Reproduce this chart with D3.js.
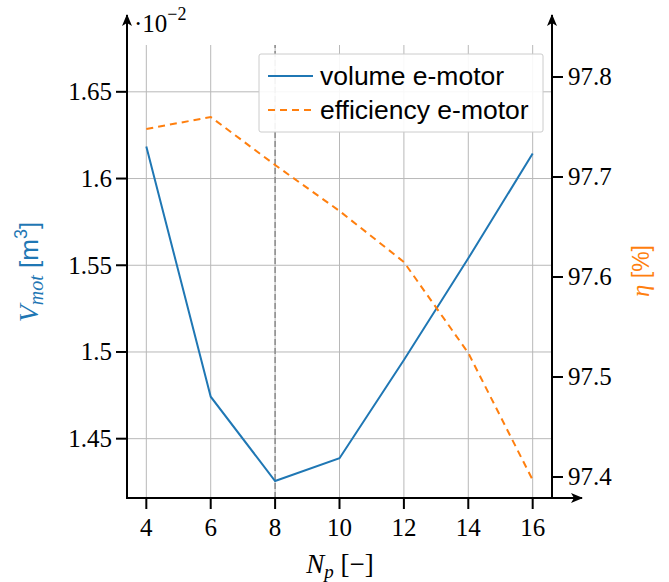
<!DOCTYPE html>
<html>
<head>
<meta charset="utf-8">
<script src="https://cdn.jsdelivr.net/npm/d3@7"></script>
<style>
  body { margin: 0; background: #fff; }
  svg { display: block; }
  .serif { font-family: "Times New Roman", "Liberation Serif", "DejaVu Serif", serif; }
  .sans { font-family: "Liberation Sans", Arial, Helvetica, sans-serif; }
</style>
</head>
<body>
<div id="chart"></div>
<script>
// Pole count sweep for the e-motor
const poles = [4, 6, 8, 10, 12, 14, 16];
const volume = [1.6185, 1.4742, 1.4256, 1.4387, 1.4954, 1.554, 1.6144];    // ×10^-2 m³
const efficiency = [97.748, 97.76, 97.712, 97.666, 97.615, 97.524, 97.397]; // %
const xTicks = [4, 6, 8, 10, 12, 14, 16];
const leftTicks = [1.45, 1.5, 1.55, 1.6, 1.65];
const rightTicks = [97.4, 97.5, 97.6, 97.7, 97.8];
const markerX = 8;
const legendLabels = ["volume e-motor", "efficiency e-motor"];

const W = 669, H = 582;
const margin = { top: 45, right: 117, bottom: 84, left: 127 };
const blue = "#1f77b4", orange = "#ff7f0e";

const svg = d3.select("#chart").append("svg")
    .attr("width", W).attr("height", H);

const defs = svg.append("defs");
defs.append("marker")
    .attr("id", "arrow")
    .attr("viewBox", "0 0 12 10")
    .attr("refX", 11).attr("refY", 5)
    .attr("markerWidth", 12).attr("markerHeight", 10)
    .attr("markerUnits", "userSpaceOnUse")
    .attr("orient", "auto")
    .append("path")
    .attr("d", "M0,0 L12,5 L0,10 L3,5 Z")
    .attr("fill", "#000");

const x = d3.scaleLinear().domain([3.4, 16.6]).range([margin.left, W - margin.right]);
const yL = d3.scaleLinear().domain([1.4158, 1.677]).range([H - margin.bottom, margin.top]);
const yR = d3.scaleLinear().domain([97.379, 97.832]).range([H - margin.bottom, margin.top]);

const x0 = margin.left, x1 = W - margin.right;
const y0 = H - margin.bottom, y1 = margin.top;

// Grid
const grid = svg.append("g").attr("stroke", "#b8b8b8").attr("stroke-width", 1);
xTicks.forEach(t => {
    grid.append("line")
        .attr("x1", x(t)).attr("x2", x(t))
        .attr("y1", y0).attr("y2", y1);
});
leftTicks.forEach(t => {
    grid.append("line")
        .attr("x1", x0).attr("x2", x1)
        .attr("y1", yL(t)).attr("y2", yL(t));
});

// Marker at the chosen pole count
svg.append("line")
    .attr("x1", x(markerX)).attr("x2", x(markerX))
    .attr("y1", y0).attr("y2", y1)
    .attr("stroke", "#8c8c8c")
    .attr("stroke-width", 1.5)
    .attr("stroke-dasharray", "6,3");

// Series
const lineVol = d3.line().x((d, i) => x(poles[i])).y(d => yL(d));
const lineEff = d3.line().x((d, i) => x(poles[i])).y(d => yR(d));

svg.append("path")
    .datum(volume)
    .attr("d", lineVol)
    .attr("fill", "none")
    .attr("stroke", blue)
    .attr("stroke-width", 2);

svg.append("path")
    .datum(efficiency)
    .attr("d", lineEff)
    .attr("fill", "none")
    .attr("stroke", orange)
    .attr("stroke-width", 2)
    .attr("stroke-dasharray", "7,5");

// Axes
const axes = svg.append("g").attr("stroke", "#000").attr("stroke-width", 2);
axes.append("line")
    .attr("x1", x0).attr("x2", x0)
    .attr("y1", y0 + 1).attr("y2", 15)
    .attr("marker-end", "url(#arrow)");
axes.append("line")
    .attr("x1", x1).attr("x2", x1)
    .attr("y1", y0 + 1).attr("y2", 15)
    .attr("marker-end", "url(#arrow)");
axes.append("line")
    .attr("x1", x0 - 1).attr("x2", 582)
    .attr("y1", y0).attr("y2", y0)
    .attr("marker-end", "url(#arrow)");

// Ticks + labels
xTicks.forEach(t => {
    axes.append("line")
        .attr("x1", x(t)).attr("x2", x(t))
        .attr("y1", y0).attr("y2", y0 + 11);
    svg.append("text")
        .attr("class", "serif")
        .attr("x", x(t)).attr("y", y0 + 38)
        .attr("text-anchor", "middle")
        .style("font-size", "25px")
        .text(t);
});
leftTicks.forEach(t => {
    axes.append("line")
        .attr("x1", x0 - 11).attr("x2", x0)
        .attr("y1", yL(t)).attr("y2", yL(t));
    svg.append("text")
        .attr("class", "serif")
        .attr("x", x0 - 15).attr("y", yL(t))
        .attr("dy", "0.33em")
        .attr("text-anchor", "end")
        .style("font-size", "25px")
        .text(String(t));
});
rightTicks.forEach(t => {
    axes.append("line")
        .attr("x1", x1).attr("x2", x1 + 11)
        .attr("y1", yR(t)).attr("y2", yR(t));
    svg.append("text")
        .attr("class", "serif")
        .attr("x", x1 + 16).attr("y", yR(t))
        .attr("dy", "0.33em")
        .style("font-size", "25px")
        .text(t.toFixed(1));
});

// Scale factor label
const sc = svg.append("text")
    .attr("class", "serif")
    .attr("x", 134).attr("y", 32)
    .style("font-size", "25px");
sc.append("tspan").text("·10");
sc.append("tspan").attr("dy", -12).style("font-size", "18px").text("−2");

// Axis titles
const yLab = svg.append("text")
    .attr("transform", "translate(38,272) rotate(-90)")
    .attr("text-anchor", "middle")
    .attr("fill", blue)
    .style("font-size", "28px");
yLab.append("tspan").attr("class", "serif").style("font-style", "italic").text("V");
yLab.append("tspan").attr("class", "serif").style("font-style", "italic")
    .style("font-size", "20px").attr("dy", 5).text("mot");
yLab.append("tspan").attr("class", "sans").attr("dy", -5).style("font-size", "26px").text(" [m");
yLab.append("tspan").attr("class", "sans").attr("dy", -11).style("font-size", "18px").text("3");
yLab.append("tspan").attr("class", "sans").attr("dy", 11).style("font-size", "26px").text("]");

const rLab = svg.append("text")
    .attr("transform", "translate(649,271) rotate(-90)")
    .attr("text-anchor", "middle")
    .attr("fill", orange)
    .style("font-size", "25px");
rLab.append("tspan").attr("class", "serif").style("font-style", "italic").text("η");
rLab.append("tspan").attr("class", "sans").style("font-size", "23px").text(" [%]");

const xLab = svg.append("text")
    .attr("class", "serif")
    .attr("x", 340).attr("y", 573)
    .attr("text-anchor", "middle")
    .style("font-size", "27px");
xLab.append("tspan").style("font-style", "italic").text("N");
xLab.append("tspan").style("font-style", "italic").style("font-size", "19px").attr("dy", 5).text("p");
xLab.append("tspan").attr("dy", -5).text(" [−]");

// Legend
const lg = svg.append("g");
lg.append("rect")
    .attr("x", 259).attr("y", 54)
    .attr("width", 284).attr("height", 78)
    .attr("rx", 2)
    .attr("fill", "#fff").attr("fill-opacity", 0.9)
    .attr("stroke", "#cccccc").attr("stroke-width", 1);
[[blue, null], [orange, "7,5"]].forEach(([c, dash], i) => {
    const yy = 76 + i * 34;
    lg.append("line")
        .attr("x1", 268).attr("x2", 313)
        .attr("y1", yy).attr("y2", yy)
        .attr("stroke", c).attr("stroke-width", 2)
        .attr("stroke-dasharray", dash);
    lg.append("text")
        .attr("class", "sans")
        .attr("x", 320).attr("y", yy)
        .attr("dy", "0.35em")
        .style("font-size", "26.5px")
        .text(legendLabels[i]);
});
</script>
</body>
</html>
